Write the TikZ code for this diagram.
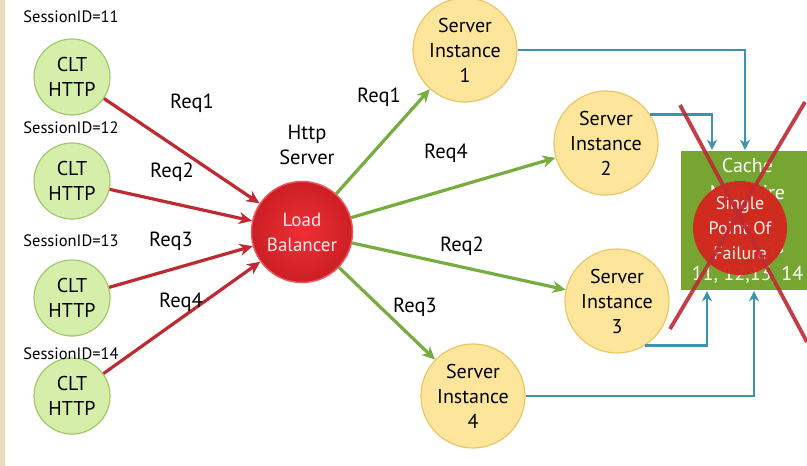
\documentclass[tikz,border=0pt]{standalone}
\usepackage{fontspec}
\setmainfont{PT Sans}
\usepackage{tikz}
\usetikzlibrary{arrows.meta}
\definecolor{cltfill}{HTML}{D5EEAA}
\definecolor{cltdraw}{HTML}{A3C96B}
\definecolor{srvfill}{HTML}{FDE59C}
\definecolor{srvdraw}{HTML}{EBC763}
\definecolor{lbinner}{HTML}{EE3036}
\definecolor{lbouter}{HTML}{CC1F25}
\definecolor{lbedge}{HTML}{E8555A}
\definecolor{reqred}{HTML}{BE2A32}
\definecolor{reqgreen}{HTML}{77AC3E}
\definecolor{linkblue}{HTML}{3D92AE}
\definecolor{cachegreen}{HTML}{76A532}
\definecolor{spofred}{HTML}{D3281F}
\definecolor{slideedge}{HTML}{E9DBBB}

\begin{document}
\begin{tikzpicture}[x=1pt,y=-1pt,
    client/.style={circle, fill=cltfill, draw=cltdraw, line width=1.2pt,
        minimum size=76pt, inner sep=0pt, align=center,
        font=\fontsize{20}{25}\selectfont},
    server/.style={circle, fill=srvfill, draw=srvdraw, line width=1.2pt,
        minimum size=104pt, inner sep=0pt, align=center,
        font=\fontsize{20}{25}\selectfont},
    balancer/.style={circle, inner color=lbinner, outer color=lbouter,
        draw=lbedge, line width=1.5pt, minimum size=101pt, inner sep=0pt,
        align=center, text=red!8, font=\fontsize{19}{25}\selectfont},
    sid/.style={font=\fontsize{16.5}{18}\selectfont},
    req/.style={align=center, font=\fontsize{20.5}{25}\selectfont},
    inreq/.style={draw=reqred, line width=3.2pt,
        -{Stealth[length=13pt, width=12pt, inset=4pt]}},
    outreq/.style={draw=reqgreen, line width=3.2pt,
        -{Stealth[length=13pt, width=12pt, inset=4pt]}},
    sync/.style={draw=linkblue, line width=2.4pt,
        -{Stealth[length=10pt, width=10pt, inset=3pt]}},
]
\useasboundingbox (0,0) rectangle (807,466);
\fill[white] (0,0) rectangle (807,466);
% Slide edge
\fill[slideedge] (0,0) rectangle (5,466);
% Clients and their sessions
\foreach \i/\y in {1/77, 2/181, 3/298, 4/396}{
    \node[client] (clt\i) at (72,\y) {CLT\\HTTP};
}
\foreach \i/\y in {1/17, 2/128, 3/241, 4/354}{
    \node[sid] (sid\i) at (71,\y) {SessionID=1\i};
}
% Load balancer
\node[balancer] (lb) at (302,232) {Load\\Balancer};
\node[req] (http) at (307,145) {Http\\Server};
% Server instances
\node[server] (srv1) at (465,50)  {Server\\Instance\\1};
\node[server] (srv2) at (606,143) {Server\\Instance\\2};
\node[server] (srv3) at (617,301) {Server\\Instance\\3};
\node[server] (srv4) at (473,396) {Server\\Instance\\4};
% Requests into the balancer
\foreach \i in {1,...,4}{
    \draw[inreq] (clt\i) -- (lb);
}
\node[req] (inreq1) at (192,103) {Req1};
\node[req] (inreq2) at (172,172) {Req2};
\node[req] (inreq3) at (171,241) {Req3};
\node[req] (inreq4) at (181,302) {Req4};
% Requests out to the servers
\foreach \j in {1,...,4}{
    \draw[outreq] (lb) -- (srv\j);
}
\node[req] (outreq1) at (379,97)  {Req1};
\node[req] (outreq4) at (446,153) {Req4};
\node[req] (outreq2) at (462,246) {Req2};
\node[req] (outreq3) at (415,307) {Req3};
% Shared session cache
\node[rectangle, fill=cachegreen, draw=black!18, double=white,
      double distance=2pt, minimum width=135pt, minimum height=141pt,
      align=center, text=white, font=\fontsize{20}{27}\selectfont]
    (cache) at (747.5,220.5)
    {Cache\\Mémoire\\[27pt]Sessions\\11, 12,13, 14};
\draw[sync] (srv1.east) -| ([xshift=-2.5pt]cache.north);
\draw[sync] (srv2.33)   -| ([xshift=-35.5pt]cache.north);
\draw[sync] (srv3.-58)  -| ([xshift=-40.5pt]cache.south);
\draw[sync] (srv4.east) -| ([xshift=6.5pt]cache.south);
% Single point of failure
\node[circle, fill=spofred, opacity=0.97, text opacity=1, minimum size=94pt,
      inner sep=0pt, align=center, text=red!6,
      font=\fontsize{18}{25}\selectfont]
    (spof) at (740,228) {Single\\Point Of\\Failure};
\coordinate (xa) at (680,105);
\coordinate (xb) at (807,342);
\coordinate (xc) at (805,102);
\coordinate (xd) at (670,329);
\draw[reqred, line width=3.8pt, opacity=0.9] (xa) -- (xb);
\draw[reqred, line width=3.8pt, opacity=0.9] (xc) -- (xd);
\end{tikzpicture}
\end{document}
